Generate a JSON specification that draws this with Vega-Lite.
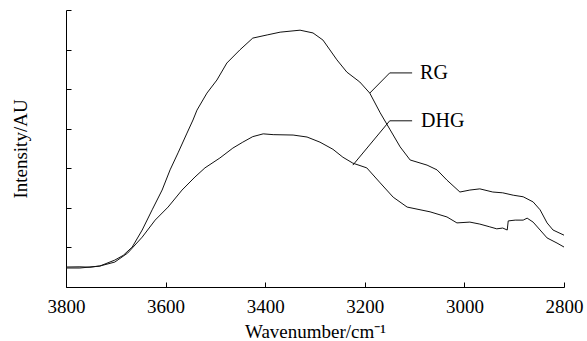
{
  "$schema": "https://vega.github.io/schema/vega-lite/v6.json",
  "width": 498,
  "height": 277,
  "autosize": {"type": "none"},
  "padding": {"left": 66, "top": 10, "right": 23, "bottom": 54},
  "config": {
    "view": {"stroke": null},
    "font": "Liberation Serif",
    "axis": {
      "domainColor": "#000",
      "tickColor": "#000",
      "labelColor": "#000",
      "titleColor": "#000",
      "labelFont": "Liberation Serif",
      "titleFont": "Liberation Serif",
      "labelFontSize": 19,
      "titleFontSize": 19,
      "titleFontWeight": "normal",
      "grid": false,
      "tickSize": -5,
      "domainWidth": 1,
      "tickWidth": 1
    }
  },
  "datasets": {
    "spectra": [
      {"s": "RG", "w": 3800, "v": 0.505},
      {"s": "RG", "w": 3772, "v": 0.51},
      {"s": "RG", "w": 3752, "v": 0.5},
      {"s": "RG", "w": 3732, "v": 0.53},
      {"s": "RG", "w": 3702, "v": 0.68},
      {"s": "RG", "w": 3685, "v": 0.8},
      {"s": "RG", "w": 3667, "v": 1.01},
      {"s": "RG", "w": 3647, "v": 1.44},
      {"s": "RG", "w": 3627, "v": 1.95},
      {"s": "RG", "w": 3607, "v": 2.45},
      {"s": "RG", "w": 3591, "v": 2.96},
      {"s": "RG", "w": 3575, "v": 3.39},
      {"s": "RG", "w": 3557, "v": 3.89},
      {"s": "RG", "w": 3545, "v": 4.22},
      {"s": "RG", "w": 3537, "v": 4.47},
      {"s": "RG", "w": 3517, "v": 4.9},
      {"s": "RG", "w": 3497, "v": 5.23},
      {"s": "RG", "w": 3477, "v": 5.66},
      {"s": "RG", "w": 3451, "v": 5.99},
      {"s": "RG", "w": 3425, "v": 6.29},
      {"s": "RG", "w": 3396, "v": 6.37},
      {"s": "RG", "w": 3370, "v": 6.44},
      {"s": "RG", "w": 3330, "v": 6.49},
      {"s": "RG", "w": 3304, "v": 6.42},
      {"s": "RG", "w": 3284, "v": 6.24},
      {"s": "RG", "w": 3270, "v": 5.99},
      {"s": "RG", "w": 3256, "v": 5.74},
      {"s": "RG", "w": 3236, "v": 5.43},
      {"s": "RG", "w": 3210, "v": 5.18},
      {"s": "RG", "w": 3190, "v": 4.9},
      {"s": "RG", "w": 3169, "v": 4.4},
      {"s": "RG", "w": 3149, "v": 3.97},
      {"s": "RG", "w": 3129, "v": 3.54},
      {"s": "RG", "w": 3109, "v": 3.21},
      {"s": "RG", "w": 3075, "v": 3.08},
      {"s": "RG", "w": 3055, "v": 2.96},
      {"s": "RG", "w": 3035, "v": 2.7},
      {"s": "RG", "w": 3009, "v": 2.4},
      {"s": "RG", "w": 2989, "v": 2.45},
      {"s": "RG", "w": 2969, "v": 2.48},
      {"s": "RG", "w": 2943, "v": 2.4},
      {"s": "RG", "w": 2923, "v": 2.38},
      {"s": "RG", "w": 2902, "v": 2.32},
      {"s": "RG", "w": 2882, "v": 2.28},
      {"s": "RG", "w": 2862, "v": 2.15},
      {"s": "RG", "w": 2848, "v": 1.95},
      {"s": "RG", "w": 2834, "v": 1.62},
      {"s": "RG", "w": 2822, "v": 1.44},
      {"s": "RG", "w": 2800, "v": 1.31},
      {"s": "DHG", "w": 3800, "v": 0.48},
      {"s": "DHG", "w": 3772, "v": 0.48},
      {"s": "DHG", "w": 3732, "v": 0.53},
      {"s": "DHG", "w": 3702, "v": 0.63},
      {"s": "DHG", "w": 3676, "v": 0.86},
      {"s": "DHG", "w": 3647, "v": 1.26},
      {"s": "DHG", "w": 3621, "v": 1.69},
      {"s": "DHG", "w": 3595, "v": 2.02},
      {"s": "DHG", "w": 3567, "v": 2.45},
      {"s": "DHG", "w": 3541, "v": 2.78},
      {"s": "DHG", "w": 3521, "v": 3.01},
      {"s": "DHG", "w": 3491, "v": 3.26},
      {"s": "DHG", "w": 3465, "v": 3.51},
      {"s": "DHG", "w": 3445, "v": 3.66},
      {"s": "DHG", "w": 3425, "v": 3.8},
      {"s": "DHG", "w": 3404, "v": 3.87},
      {"s": "DHG", "w": 3384, "v": 3.85},
      {"s": "DHG", "w": 3344, "v": 3.84},
      {"s": "DHG", "w": 3316, "v": 3.79},
      {"s": "DHG", "w": 3290, "v": 3.66},
      {"s": "DHG", "w": 3264, "v": 3.48},
      {"s": "DHG", "w": 3244, "v": 3.28},
      {"s": "DHG", "w": 3224, "v": 3.13},
      {"s": "DHG", "w": 3196, "v": 3.01},
      {"s": "DHG", "w": 3169, "v": 2.63},
      {"s": "DHG", "w": 3143, "v": 2.27},
      {"s": "DHG", "w": 3115, "v": 2.02},
      {"s": "DHG", "w": 3069, "v": 1.9},
      {"s": "DHG", "w": 3035, "v": 1.77},
      {"s": "DHG", "w": 3015, "v": 1.62},
      {"s": "DHG", "w": 2989, "v": 1.64},
      {"s": "DHG", "w": 2969, "v": 1.59},
      {"s": "DHG", "w": 2949, "v": 1.52},
      {"s": "DHG", "w": 2935, "v": 1.47},
      {"s": "DHG", "w": 2923, "v": 1.49},
      {"s": "DHG", "w": 2914, "v": 1.44},
      {"s": "DHG", "w": 2912, "v": 1.67},
      {"s": "DHG", "w": 2898, "v": 1.69},
      {"s": "DHG", "w": 2882, "v": 1.69},
      {"s": "DHG", "w": 2874, "v": 1.74},
      {"s": "DHG", "w": 2862, "v": 1.64},
      {"s": "DHG", "w": 2848, "v": 1.44},
      {"s": "DHG", "w": 2834, "v": 1.24},
      {"s": "DHG", "w": 2814, "v": 1.11},
      {"s": "DHG", "w": 2800, "v": 1.01}
    ],
    "leaders": [
      {"g": "RG", "o": 1, "w": 3190, "v": 4.9},
      {"g": "RG", "o": 2, "w": 3150, "v": 5.41},
      {"g": "RG", "o": 3, "w": 3105, "v": 5.41},
      {"g": "DHG", "o": 1, "w": 3224, "v": 3.08},
      {"g": "DHG", "o": 2, "w": 3150, "v": 4.2},
      {"g": "DHG", "o": 3, "w": 3105, "v": 4.2}
    ],
    "labels": [
      {"label": "RG", "w": 3089, "v": 5.41},
      {"label": "DHG", "w": 3087, "v": 4.2}
    ]
  },
  "encoding": {
    "x": {
      "field": "w",
      "type": "quantitative",
      "scale": {"domain": [2800, 3800], "reverse": true, "nice": false, "zero": false},
      "axis": {
        "title": "Wavenumber/cm⁻¹",
        "values": [3800, 3600, 3400, 3200, 3000, 2800],
        "format": "d",
        "labelPadding": 15,
        "titlePadding": 6,
        "labelFlush": false,
        "labelOverlap": false
      }
    },
    "y": {
      "field": "v",
      "type": "quantitative",
      "scale": {"domain": [0, 7], "nice": false, "zero": false},
      "axis": {
        "title": "Intensity/AU",
        "values": [0, 1, 2, 3, 4, 5, 6, 7],
        "labels": false,
        "titleX": -46,
        "titleBaseline": "middle"
      }
    }
  },
  "layer": [
    {
      "data": {"name": "spectra"},
      "mark": {"type": "line", "color": "#111", "strokeWidth": 1, "interpolate": "linear"},
      "encoding": {"detail": {"field": "s"}}
    },
    {
      "data": {"name": "leaders"},
      "mark": {"type": "line", "color": "#111", "strokeWidth": 1},
      "encoding": {"detail": {"field": "g"}, "order": {"field": "o"}}
    },
    {
      "data": {"name": "labels"},
      "mark": {"type": "text", "align": "left", "baseline": "middle", "font": "Liberation Serif", "fontSize": 20, "color": "#000"},
      "encoding": {"text": {"field": "label"}}
    }
  ]
}
